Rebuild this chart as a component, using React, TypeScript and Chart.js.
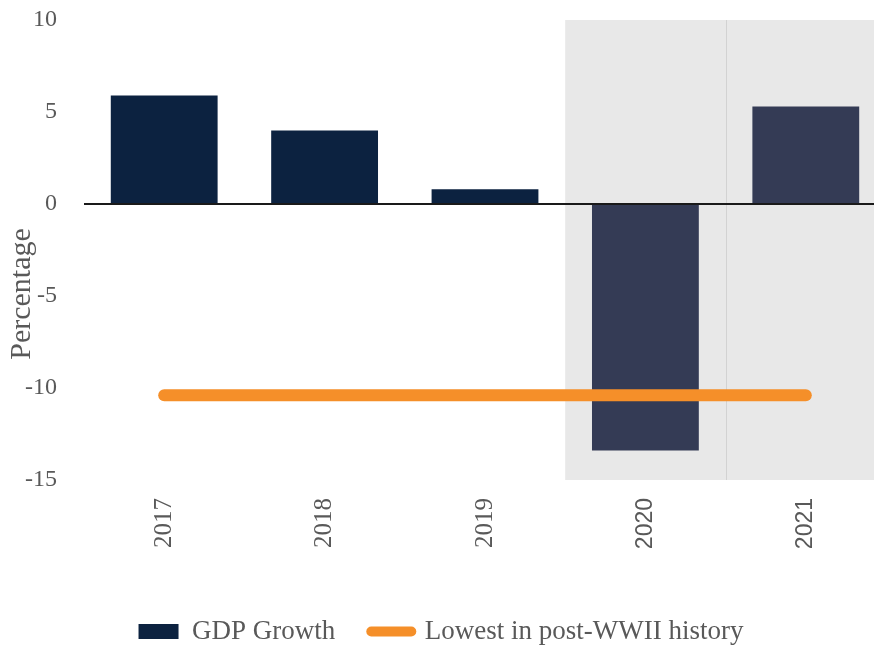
import React, { useEffect, useRef } from "react";
import { Chart, registerables } from "chart.js";

Chart.register(...registerables);

const categories = ["2017", "2018", "2019", "2020", "2021"];
const gdpGrowth = [5.9, 4.0, 0.8, -13.4, 5.3];
const lowestPostWWII = [-10.4, -10.4, -10.4, -10.4, -10.4];
const shadedCategories = ["2020", "2021"];
const yTicks = [-15, -10, -5, 0, 5, 10];
const seriesNames = ["GDP Growth", "Lowest in post-WWII history"];
const yTitle = "Percentage";

const NAVY = "#0c2240";
const NAVY_SHADED = "#343b55";
const ORANGE = "#f58f29";
const TEXT = "#595959";
const SERIF = "'Liberation Serif', 'Times New Roman', serif";
const SANS = "'Liberation Sans', Arial, sans-serif";

const shadePlugin = {
  id: "shade",
  beforeDatasetsDraw(chart: any) {
    const { ctx, chartArea } = chart;
    const x = chart.scales.x;
    const first = categories.indexOf(shadedCategories[0]);
    const left = (x.getPixelForValue(first - 1) + x.getPixelForValue(first)) / 2;
    ctx.save();
    ctx.fillStyle = "#e8e8e8";
    ctx.fillRect(left, chartArea.top, chartArea.right - left, chartArea.bottom - chartArea.top);
    ctx.strokeStyle = "#d2d2d2";
    ctx.lineWidth = 1;
    for (let i = first; i < categories.length - 1; i++) {
      const d = Math.round((x.getPixelForValue(i) + x.getPixelForValue(i + 1)) / 2) + 0.5;
      ctx.beginPath();
      ctx.moveTo(d, chartArea.top);
      ctx.lineTo(d, chartArea.bottom);
      ctx.stroke();
    }
    ctx.restore();
  },
  afterDatasetsDraw(chart: any) {
    const { ctx, chartArea } = chart;
    const y0 = chart.scales.y.getPixelForValue(0);
    ctx.save();
    ctx.strokeStyle = "#1a1a1a";
    ctx.lineWidth = 1.8;
    ctx.beginPath();
    ctx.moveTo(chartArea.left, y0);
    ctx.lineTo(chartArea.right, y0);
    ctx.stroke();
    ctx.restore();
  },
  afterDraw(chart: any) {
    const { ctx } = chart;
    const y = chart.scales.y;
    const cy = y.getPixelForValue(-5) - 2;
    ctx.save();
    ctx.translate(22, cy);
    ctx.rotate(-Math.PI / 2);
    ctx.fillStyle = TEXT;
    ctx.font = `30px ${SERIF}`;
    ctx.textAlign = "center";
    ctx.textBaseline = "middle";
    ctx.fillText(yTitle, 0, 0);
    ctx.restore();
  },
  afterLayout(chart: any) {
    if (chart.legend) {
      chart.legend.left = 0;
      chart.legend.right = 882;
      chart.legend.top += 7;
      chart.legend.bottom += 7;
    }
  },
};

export default function App() {
  const ref = useRef<HTMLCanvasElement | null>(null);
  useEffect(() => {
    if (!ref.current) return;
    const chart = new Chart(ref.current, {
      type: "bar",
      data: {
        labels: categories,
        datasets: [
          {
            type: "bar",
            label: seriesNames[0],
            data: gdpGrowth,
            backgroundColor: categories.map((c) => (shadedCategories.includes(c) ? NAVY_SHADED : NAVY)),
            borderWidth: 0,
            categoryPercentage: 1,
            barPercentage: 0.666,
            order: 1,
          } as any,
          {
            type: "line",
            label: seriesNames[1],
            data: lowestPostWWII,
            borderColor: ORANGE,
            backgroundColor: ORANGE,
            borderWidth: 12,
            borderCapStyle: "round",
            pointRadius: 0,
            fill: false,
            order: 0,
          } as any,
        ],
      },
      options: {
        responsive: true,
        maintainAspectRatio: false,
        animation: false,
        layout: { padding: { top: 20, left: 0, right: 0, bottom: 0 } },
        plugins: {
          tooltip: { enabled: false },
          legend: {
            position: "bottom",
            labels: {
              usePointStyle: true,
              pointStyleWidth: 40,
              boxHeight: 15,
              padding: 36,
              color: TEXT,
              font: { family: SERIF, size: 27 },
              generateLabels: () => [
                {
                  text: seriesNames[0],
                  fillStyle: NAVY,
                  strokeStyle: NAVY,
                  lineWidth: 0,
                  pointStyle: "rect",
                  fontColor: TEXT,
                  hidden: false,
                  datasetIndex: 0,
                },
                {
                  text: seriesNames[1],
                  fillStyle: ORANGE,
                  strokeStyle: ORANGE,
                  lineWidth: 10,
                  lineCap: "round",
                  pointStyle: "line",
                  fontColor: TEXT,
                  hidden: false,
                  datasetIndex: 1,
                },
              ],
            },
          },
        },
        scales: {
          x: {
            offset: true,
            grid: { display: false, drawTicks: false },
            border: { display: false },
            ticks: {
              minRotation: 90,
              maxRotation: 90,
              padding: 18,
              color: TEXT,
              font: (ctx: any) =>
                shadedCategories.includes(categories[ctx.index])
                  ? { family: SANS, size: 23 }
                  : { family: SERIF, size: 25 },
            },
            afterFit: (scale: any) => {
              scale.height = 95;
            },
          },
          y: {
            min: -15,
            max: 10,
            grid: { display: false, drawTicks: false },
            border: { display: false },
            afterBuildTicks: (scale: any) => {
              scale.ticks = yTicks.map((v) => ({ value: v }));
            },
            ticks: {
              padding: 27,
              color: TEXT,
              font: { family: SERIF, size: 24 },
            },
            afterFit: (scale: any) => {
              scale.width = 84;
              scale.paddingTop = 14;
              scale.paddingBottom = 14;
            },
          },
        },
      },
      plugins: [shadePlugin],
    });
    return () => chart.destroy();
  }, []);

  return (
    <div style={{ position: "absolute", left: 0, top: 0, width: 874, height: 648, overflow: "hidden", background: "#fff" }}>
      <div style={{ position: "relative", width: 886, height: 648 }}>
        <canvas ref={ref} />
      </div>
    </div>
  );
}
